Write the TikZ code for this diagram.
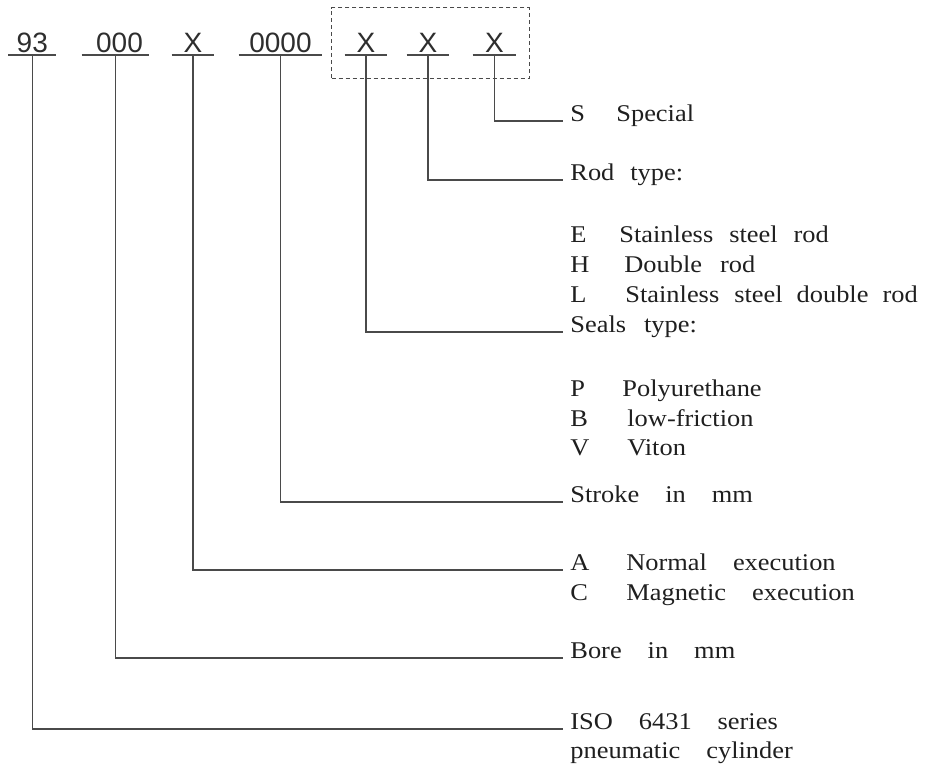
\documentclass[tikz,border=0pt]{standalone}
\usepackage{fontspec}
\setmainfont{Liberation Serif}[FakeStretch=1.1]
\newfontfamily\codefont{Liberation Sans}
\usetikzlibrary{positioning,fit}

\definecolor{leadgray}{HTML}{4A4A4A}
\definecolor{codegray}{HTML}{2E2E2E}

\tikzset{
	lead/.style={draw=leadgray, line width=0.6pt},
	codepart/.style={anchor=south, inner xsep=0pt, inner ysep=1pt, font=\codefont\fontsize{14}{14}\selectfont, text=codegray},
	desc/.style={anchor=base west, inner xsep=3.5pt, inner ysep=0pt, font=\fontsize{12}{15}\selectfont, text=black!88}
}
\newcommand{\codeletter}[2]{\makebox[#1][l]{#2}}
\newcommand{\wgap}{\hspace{13pt}}

\begin{document}
\begin{tikzpicture}[x=0.5pt, y=-0.5pt]
	\useasboundingbox (0,0) rectangle (928,768);

	% order code
	\node (cSeries) [codepart, minimum width=23.7pt] at (32.3,55) {93};
	\node (cBore) [codepart, minimum width=33.5pt] at (115.5,55) {\hspace{4pt}000};
	\node (cExec) [codepart, minimum width=21pt] at (193,55) {X};
	\node (cStroke) [codepart, minimum width=41.5pt] at (280.5,55) {0000\hspace{4.5pt}};
	\node (cSeal) [codepart, minimum width=21pt] at (366,55) {X\hspace{3.5pt}};
	\node (cRod) [codepart, minimum width=21pt] at (428,55) {X\hspace{7pt}};
	\node (cSpecial) [codepart, minimum width=21.5pt] at (494.5,55) {X\hspace{16.5pt}};

	\draw[lead] (cSeries.south west) -- (cSeries.south east);
	\draw[lead] (cBore.south west) -- (cBore.south east);
	\draw[lead] (cExec.south west) -- (cExec.south east);
	\draw[lead] (cStroke.south west) -- (cStroke.south east);
	\draw[lead] (cSeal.south west) -- (cSeal.south east);
	\draw[lead] (cRod.south west) -- (cRod.south east);
	\draw[lead] (cSpecial.south west) -- (cSpecial.south east);

	\node (optbox) [draw=leadgray, line width=0.5pt, dash pattern=on 2pt off 1.5pt, fit=(cSeal)(cSpecial), inner xsep=6.5pt, inner ysep=11.5pt] {};

	% legend
	\node (special) [desc] at (563,121) {\codeletter{23pt}{S}Special};
	\node (rodhead) [desc] at (563,180) {Rod\hspace{8pt}type:};
	\node (rodE) [desc] at (563,242) {\codeletter{24.5pt}{E}Stainless\hspace{8pt}steel\hspace{8pt}rod};
	\node (rodH) [desc] at (563,272) {\codeletter{27pt}{H}Double\hspace{9pt}rod};
	\node (rodL) [desc] at (563,302) {\codeletter{27.5pt}{L}Stainless\hspace{7.5pt}steel\hspace{7pt}double\hspace{7pt}rod};
	\node (sealhead) [desc] at (563,332) {Seals\hspace{9pt}type:};
	\node (sealP) [desc] at (563,396) {\codeletter{26pt}{P}Polyurethane};
	\node (sealB) [desc] at (563,426) {\codeletter{28.5pt}{B}low-friction};
	\node (sealV) [desc] at (563,455) {\codeletter{28.5pt}{V}Viton};
	\node (stroke) [desc] at (563,502) {Stroke\wgap in\wgap mm};
	\node (execA) [desc] at (563,570) {\codeletter{28pt}{A}Normal\wgap execution};
	\node (execC) [desc] at (563,600) {\codeletter{28pt}{C}Magnetic\wgap execution};
	\node (bore) [desc] at (563,658) {Bore\wgap in\wgap mm};
	\node (iso) [desc] at (563,729) {ISO\wgap 6431\wgap series};
	\node (isocyl) [desc] at (563,758) {pneumatic\wgap cylinder};

	\draw[lead] (cSpecial.south) |- (special.base west);
	\draw[lead] (cRod.south) |- (rodhead.base west);
	\draw[lead] (cSeal.south) |- (sealhead.base west);
	\draw[lead] (cStroke.south) |- (stroke.base west);
	\draw[lead] (cExec.south) |- (execA.base west);
	\draw[lead] (cBore.south) |- (bore.base west);
	\draw[lead] (cSeries.south) |- (iso.base west);
\end{tikzpicture}
\end{document}
